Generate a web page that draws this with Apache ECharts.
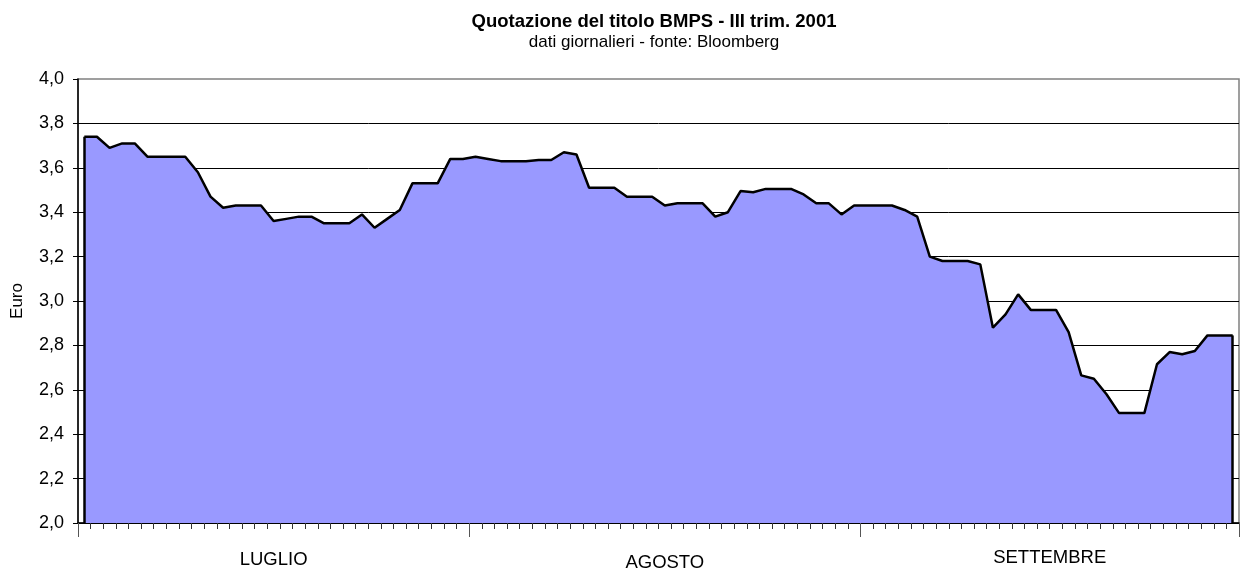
<!DOCTYPE html>
<html>
<head>
<meta charset="utf-8">
<script src="https://cdn.jsdelivr.net/npm/echarts@6/dist/echarts.min.js"></script>
<style>
  html, body { margin: 0; padding: 0; background: #fff; }
  #chart { width: 1240px; height: 570px; }
</style>
</head>
<body>
<div id="chart"></div>
<script>
// Daily closing price of BMPS, Q3 2001 (one value per calendar day).
const JULY = [
  3.74, 3.74, 3.69, 3.71, 3.71, 3.65, 3.65, 3.65, 3.65, 3.58,
  3.47, 3.42, 3.43, 3.43, 3.43, 3.36, 3.37, 3.38, 3.38, 3.35,
  3.35, 3.35, 3.39, 3.33, 3.37, 3.41, 3.53, 3.53, 3.53, 3.64,
  3.64,
];
const AUGUST = [
  3.65, 3.64, 3.63, 3.63, 3.63, 3.635, 3.635, 3.67, 3.66, 3.51,
  3.51, 3.51, 3.47, 3.47, 3.47, 3.43, 3.44, 3.44, 3.44, 3.38,
  3.40, 3.495, 3.49, 3.505, 3.505, 3.505, 3.48, 3.44, 3.44, 3.39,
  3.43,
];
const SEPTEMBER = [
  3.43, 3.43, 3.43, 3.41, 3.38, 3.20, 3.18, 3.18, 3.18, 3.165,
  2.88, 2.94, 3.03, 2.96, 2.96, 2.96, 2.86, 2.665, 2.65, 2.58,
  2.495, 2.495, 2.495, 2.715, 2.77, 2.76, 2.775, 2.845, 2.845, 2.845,
];
const MONTHS = ["LUGLIO", "AGOSTO", "SETTEMBRE"];
const Y_MIN = 2;
const Y_MAX = 4;
const Y_STEP = 0.2;

const PRICES = [...JULY, ...AUGUST, ...SEPTEMBER];
const monthLengths = [JULY.length, AUGUST.length, SEPTEMBER.length];
const DAYS = PRICES.map((_, i) => String(i + 1));

// month boundaries (long ticks) and month centres (labels) on a 0..N day scale
const bounds = [0];
monthLengths.forEach((n) => bounds.push(bounds[bounds.length - 1] + n));
const centres = monthLengths.map((n, i) => bounds[i] + n / 2);
const dayTicks = Array.from({ length: PRICES.length + 1 }, (_, i) => i);

const FONT = "'Liberation Sans', Arial, sans-serif";
const last = PRICES.length - 1;

// Excel staggers the month captions slightly; keep that offset per label.
const labelNudge = ["a", "b", "c"];

const option = {
  animation: false,
  textStyle: { fontFamily: FONT },
  title: {
    text: "Quotazione del titolo BMPS - III trim. 2001",
    subtext: "dati giornalieri - fonte: Bloomberg",
    left: 649,
    top: 7,
    textAlign: "center",
    itemGap: 3,
    textStyle: { fontFamily: FONT, fontSize: 18.5, fontWeight: "bold", color: "#000" },
    subtextStyle: { fontFamily: FONT, fontSize: 17, color: "#000" },
  },
  grid: {
    left: 78, right: 1, top: 79, bottom: 47,
    // v6 would otherwise squeeze the plot to keep axis text inside the canvas
    outerBoundsMode: "none",
    containLabel: false,
    show: true, borderColor: "#808080", borderWidth: 1.5,
  },
  xAxis: [
    {
      // data axis: one category per calendar day, no visible decoration
      type: "category",
      data: DAYS,
      boundaryGap: true,
      position: "bottom",
      axisLine: { show: true, lineStyle: { color: "#000", width: 1.5 } },
      axisTick: { show: false },
      axisLabel: { show: false },
    },
    {
      // daily ticks
      type: "value",
      min: 0,
      max: PRICES.length,
      position: "bottom",
      axisLine: { show: false },
      splitLine: { show: false },
      axisTick: { show: true, length: 6, customValues: dayTicks, lineStyle: { color: "#333" } },
      axisLabel: { show: false },
    },
    {
      // month boundaries and captions
      type: "value",
      min: 0,
      max: PRICES.length,
      position: "bottom",
      axisLine: { show: false },
      splitLine: { show: false },
      axisTick: { show: true, length: 14, customValues: bounds, lineStyle: { color: "#555" } },
      axisLabel: {
        customValues: centres,
        margin: 25,
        fontSize: 18.5,
        color: "#000",
        formatter: (v) => {
          const i = centres.indexOf(v);
          return "{" + labelNudge[i] + "|" + MONTHS[i] + "}";
        },
        rich: {
          a: { fontSize: 18.5, padding: [2, 0, 0, 0], color: "#000" },
          b: { fontSize: 18.5, padding: [5, 0, 0, 0], color: "#000" },
          c: { fontSize: 18.5, padding: [0, 0, 0, 0], color: "#000" },
        },
      },
    },
  ],
  yAxis: {
    type: "value",
    min: Y_MIN,
    max: Y_MAX,
    interval: Y_STEP,
    name: "Euro",
    nameLocation: "middle",
    nameRotate: 90,
    nameGap: 52,
    nameTextStyle: { fontSize: 17, color: "#000" },
    axisLine: { show: true, lineStyle: { color: "#000", width: 1.5 } },
    axisTick: { show: true, length: 5, lineStyle: { color: "#000" } },
    axisLabel: {
      fontSize: 18,
      color: "#000",
      margin: 14,
      formatter: (v) => v.toFixed(1).replace(".", ","),
    },
    splitLine: { show: true, showMaxLine: false, lineStyle: { color: "#000", width: 1 } },
  },
  series: [
    {
      type: "line",
      data: PRICES,
      xAxisIndex: 0,
      showSymbol: false,
      symbol: "none",
      lineStyle: { color: "#000", width: 2.5 },
      areaStyle: { color: "#9999ff", opacity: 1, origin: "start" },
      z: 3,
      // Excel-style area outline: vertical sides down to the baseline
      markLine: {
        silent: true,
        symbol: "none",
        label: { show: false },
        lineStyle: { color: "#000", width: 2.5, type: "solid" },
        data: [
          [{ coord: [0, Y_MIN] }, { coord: [0, PRICES[0]] }],
          [{ coord: [last, Y_MIN] }, { coord: [last, PRICES[last]] }],
        ],
      },
    },
  ],
};

const chart = echarts.init(document.getElementById("chart"), null, { renderer: "canvas" });
chart.setOption(option);
window.addEventListener("resize", () => chart.resize());
</script>
</body>
</html>
